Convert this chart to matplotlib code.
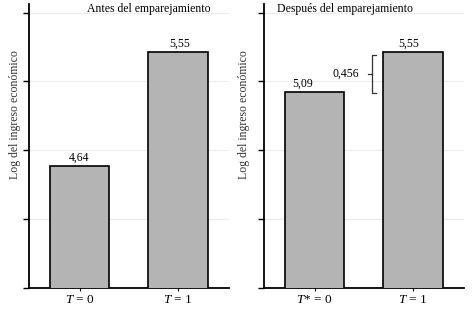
import matplotlib
matplotlib.use('agg')
from matplotlib import pyplot as plt

plt.rcParams['font.family'] = ['Liberation Serif', 'DejaVu Serif']
plt.rcParams['mathtext.fontset'] = 'custom'
plt.rcParams['mathtext.rm'] = 'Liberation Serif'
plt.rcParams['mathtext.it'] = 'Liberation Serif:italic'

# data
groups_before = ['$T$ = 0', '$T$ = 1']
values_before = [4.64, 5.55]
groups_after = ['$T$* = 0', '$T$ = 1']
values_after = [5.09, 5.55]
diff_after = 0.456
titles = ['Antes del emparejamiento', 'Después del emparejamiento']
ylabel = 'Log del ingreso económico'

bar_color = '#b4b4b4'
grid_color = '#ececec'

fig = plt.figure(figsize=(4.75, 3.09), dpi=100)
ax1 = fig.add_axes([29/475, 1-288/309, 200/475, 284/309])
ax2 = fig.add_axes([264/475, 1-288/309, 200/475, 284/309])

def label_fmt(v):
    return ('%.2f' % v).replace('.', ',')

def draw_panel(ax, labels, vals, ylim, title, title_x, title_ha, lab_dx, ylab_x):
    x = [0, 1]
    ax.bar(x, vals, width=0.6, color=bar_color, edgecolor='black', linewidth=1.2, zorder=3)
    ax.set_xlim(-0.513, 1.518)
    ax.set_ylim(*ylim)
    lo, hi = ylim
    ticks = [lo + f*(hi-lo) for f in (0, 0.243, 0.486, 0.729, 0.968)]
    ax.set_yticks(ticks)
    ax.set_yticklabels([])
    ax.yaxis.grid(True, color=grid_color, linewidth=0.8, zorder=0)
    ax.set_xticks(x)
    ax.set_xticklabels(labels, fontsize=9.5)
    ax.tick_params(axis='y', length=4, width=1, color='black')
    ax.tick_params(axis='x', length=2.5, width=0.8, pad=2)
    for s in ['top', 'right']:
        ax.spines[s].set_visible(False)
    for s in ['left', 'bottom']:
        ax.spines[s].set_linewidth(1.3)
    for xi, v, dx in zip(x, vals, lab_dx):
        ax.annotate(label_fmt(v), (xi + dx, v), xytext=(0, 1.5), textcoords='offset points',
                    ha='center', va='bottom', fontsize=8.5)
    ax.text(title_x, 0.982, title, transform=ax.transAxes, ha=title_ha, va='center', fontsize=8.5)
    ax.set_ylabel(ylabel, fontsize=8.5, color='#333333')
    ax.yaxis.set_label_coords(ylab_x, 0.61)

draw_panel(ax1, groups_before, values_before, (3.666, 5.933), titles[0], 0.6, 'center', [0, 0.02], -0.04)
draw_panel(ax2, groups_after, values_after, (2.836, 6.102), titles[1], 0.065, 'left', [-0.12, -0.04], -0.07)

# bracket for the difference
top = values_after[1] - 0.035
bot = values_after[0] - 0.012
mid = (top + bot) / 2
bx = 0.584
ax2.plot([bx + 0.04, bx, bx, bx + 0.04], [top, top, bot, bot], color='#333333', linewidth=0.9, zorder=4)
ax2.plot([bx - 0.04, bx], [mid, mid], color='#333333', linewidth=0.9, zorder=4)
ax2.text(0.32, mid, ('%.3f' % diff_after).replace('.', ','), ha='center', va='center', fontsize=8.5)

fig.savefig('out.png', dpi=100)
